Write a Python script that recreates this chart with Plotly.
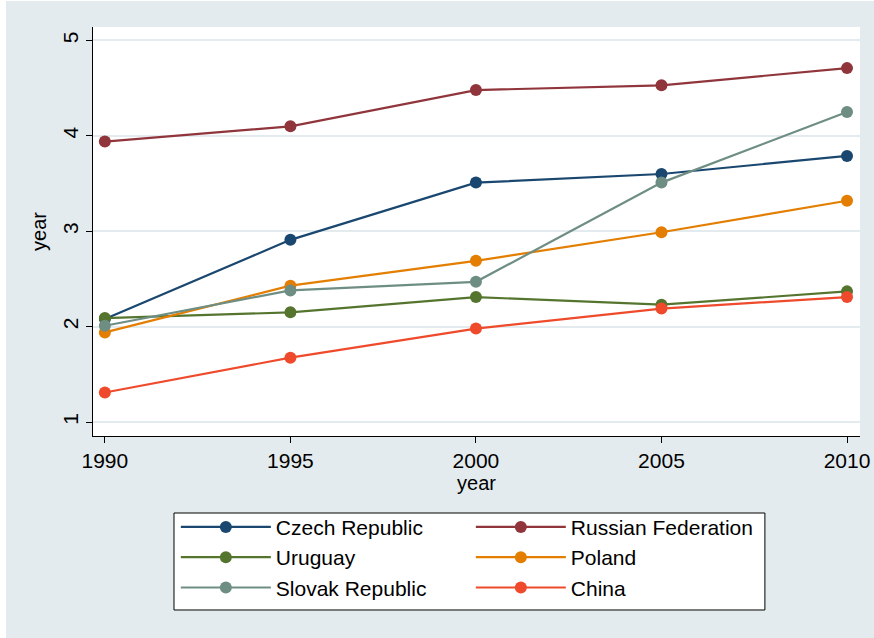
import plotly.graph_objects as go

years = [1990, 1995, 2000, 2005, 2010]
czech = [2.08, 2.91, 3.51, 3.60, 3.79]
russia = [3.94, 4.10, 4.48, 4.53, 4.71]
uruguay = [2.09, 2.15, 2.31, 2.23, 2.37]
poland = [1.94, 2.43, 2.69, 2.99, 3.32]
slovak = [2.01, 2.38, 2.47, 3.51, 4.25]
china = [1.31, 1.675, 1.98, 2.19, 2.31]

y_ticks = [1, 2, 3, 4, 5]
x_ticks = [1990, 1995, 2000, 2005, 2010]

series = [
    ("Czech Republic", czech, "#1a476f"),
    ("Russian Federation", russia, "#90353b"),
    ("Uruguay", uruguay, "#55752f"),
    ("Poland", poland, "#e37e00"),
    ("Slovak Republic", slovak, "#6e8e84"),
    ("China", china, "#ee4a2b"),
]

fig = go.Figure()
for name, vals, col in series:
    fig.add_trace(go.Scatter(
        x=years, y=vals, name=name, mode="lines+markers",
        line=dict(color=col, width=2.2),
        marker=dict(color=col, size=12),
    ))

font_family = "Liberation Sans, Arial, sans-serif"
fig.update_layout(
    width=868, height=637,
    paper_bgcolor="#e3ebee",
    plot_bgcolor="white",
    margin=dict(l=87, r=14, t=26, b=202, autoexpand=False),
    font=dict(family=font_family, color="black", size=20),
    xaxis=dict(
        range=[1989.68, 2010.35], tickvals=x_ticks, ticks="outside",
        ticklen=6, tickcolor="black", showline=True, linecolor="black",
        linewidth=1, showgrid=False, zeroline=False,
        tickfont=dict(size=21),
        title=dict(text="year", font=dict(size=20), standoff=0),
    ),
    yaxis=dict(
        range=[0.854, 5.141], tickvals=y_ticks, ticks="outside",
        ticklen=6, tickcolor="black", showline=True, linecolor="black",
        linewidth=1, showgrid=True, gridcolor="#e3ebee", gridwidth=1.5,
        zeroline=False, tickangle=-90,
        tickfont=dict(size=21),
        title=dict(text="year", font=dict(size=20), standoff=6),
    ),
    legend=dict(
        orientation="h", x=0.108, y=-0.173, xanchor="left", yanchor="top",
        bgcolor="rgba(0,0,0,0)", borderwidth=0,
        entrywidth=190, entrywidthmode="pixels",
        font=dict(size=21), itemwidth=90,
    ),
    shapes=[dict(
        type="rect", xref="paper", yref="paper",
        x0=0.1056, x1=0.876, y0=-0.4254, y1=-0.1883,
        fillcolor="white", line=dict(color="black", width=1),
        layer="below",
    )],
)

fig.write_html(
    "out.html",
    post_script="document.body.style.margin='1px 0 0 6px';"
                "document.body.style.background='white';"
                "document.body.style.overflow='hidden';",
)
